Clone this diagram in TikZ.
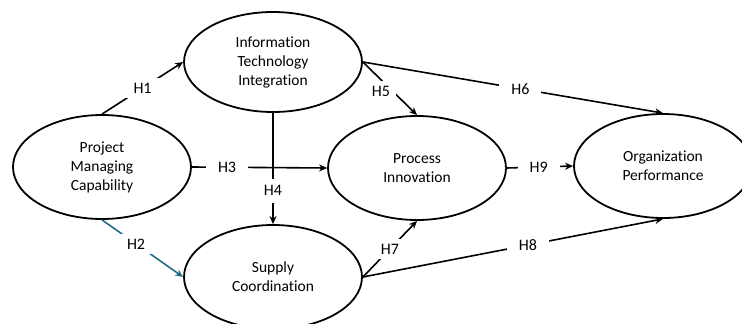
\documentclass[tikz,border=0pt]{standalone}
\usepackage{fontspec}
\setmainfont{Carlito}[Ligatures=CommonOff]
\usetikzlibrary{arrows.meta,shapes.geometric}
\definecolor{hblue}{RGB}{31,107,140}

\begin{document}
\begin{tikzpicture}[x=1pt,y=-1pt,line width=1.6pt,>={Stealth[length=8pt,width=7pt]},
  var/.style={ellipse,draw=black,line width=1.8pt,minimum width=178pt,minimum height=104pt,
    inner sep=0,align=center,font=\fontsize{15.5}{19}\selectfont},
  hyp/.style={fill=white,inner xsep=12pt,inner ysep=5pt,font=\fontsize{16}{16}\selectfont}]
\useasboundingbox (0,0) rectangle (742,324);
% ---------- constructs ----------
\node[var] (pmc) at (102,167) {Project\\Managing\\Capability};
\node[var,minimum height=100pt] (iti) at (273,62) {Information\\Technology\\Integration};
\node[var] (pin) at (417,168) {Process\\Innovation};
\node[var] (sco) at (273,277) {Supply\\Coordination};
\node[var] (opf) at (663,166) {Organization\\Performance};
% ---------- hypotheses ----------
\draw[->] (pmc.north) -- (iti.west) node[hyp,pos=0.5,inner xsep=8pt] {H1};
\draw[->,hblue] (pmc.south) -- (sco.west) node[hyp,pos=0.42,text=black,inner xsep=8pt] {H2};
\draw[->] (pmc.east) -- (pin.west) node[hyp,pos=0.26] {H3};
\draw[->] (iti.south) -- (sco.north) node[hyp,pos=0.7,inner xsep=3pt,inner ysep=7pt] {H4};
\draw[->] (iti.east) -- (pin.north) node[hyp,pos=0.52,inner xsep=6pt,xshift=-10pt,yshift=-2pt] {H5};
\draw[->] (iti.east) -- (opf.north) node[hyp,pos=0.525] {H6};
\draw[->] (sco.east) -- (pin.south) node[hyp,pos=0.5,inner xsep=6pt] {H7};
\draw[->] (sco.east) -- (opf.south) node[hyp,pos=0.55] {H8};
\draw[->] (pin.east) -- (opf.west) node[hyp,pos=0.48] {H9};
\end{tikzpicture}
\end{document}
